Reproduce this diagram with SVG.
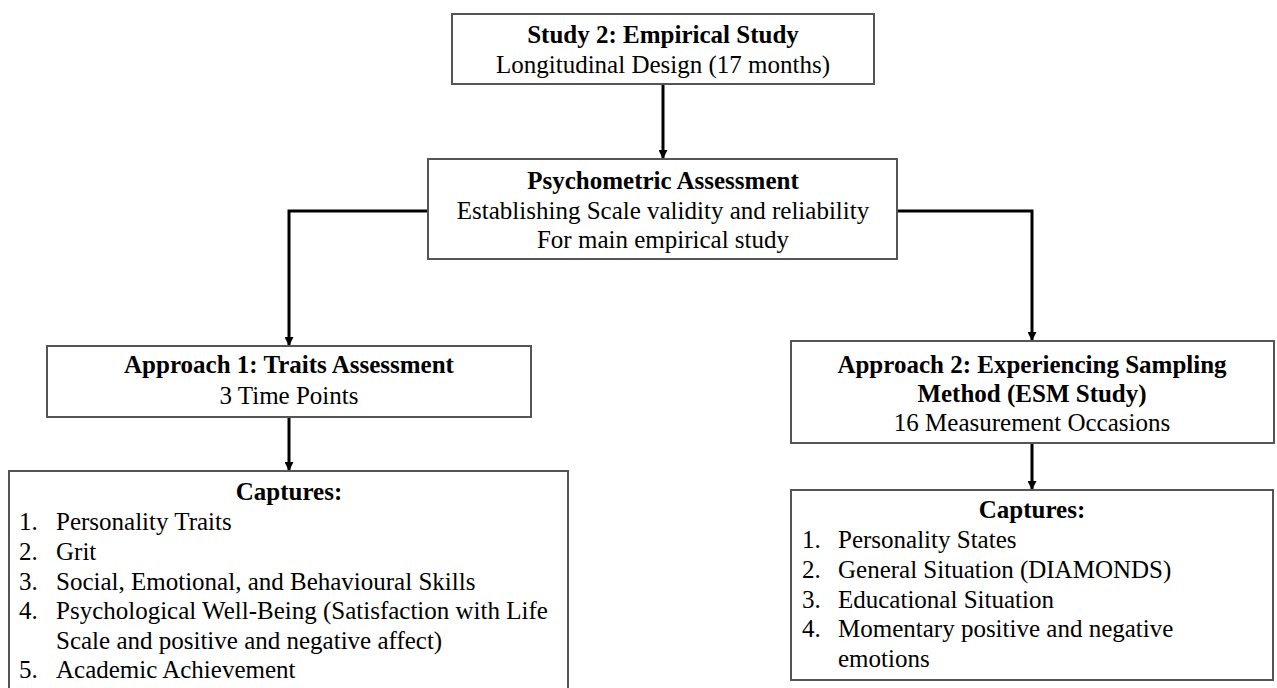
<svg xmlns="http://www.w3.org/2000/svg" width="1277" height="688" viewBox="0 0 1277 688">
  <style>
    .box { fill: #ffffff; stroke: #555555; stroke-width: 2; }
    .conn { fill: none; stroke: #000000; stroke-width: 3; }
    text { font-family: "Liberation Serif", "Times New Roman", serif; font-size: 25px; fill: #000000; }
    .b { font-weight: bold; }
    .c { text-anchor: middle; }
  </style>
  <defs>
    <marker id="arrow" viewBox="0 0 10 10" refX="10" refY="5" markerWidth="10" markerHeight="9" markerUnits="userSpaceOnUse" orient="auto">
      <path d="M0,0 L10,5 L0,10 z" fill="#000000"/>
    </marker>
  </defs>
  <rect width="1277" height="688" fill="#ffffff"/>

  <g id="connectors">
    <path class="conn" d="M663,84 V159" marker-end="url(#arrow)"/>
    <path class="conn" d="M428,211 H289 V346" marker-end="url(#arrow)"/>
    <path class="conn" d="M897,211 H1032 V341" marker-end="url(#arrow)"/>
    <path class="conn" d="M289,417 V471" marker-end="url(#arrow)"/>
    <path class="conn" d="M1032,443 V490" marker-end="url(#arrow)"/>
  </g>

  <g id="study2">
    <rect class="box" x="452" y="14" width="422" height="70"/>
    <text class="b c" x="663" y="43">Study 2: Empirical Study</text>
    <text class="c" x="663" y="73">Longitudinal Design (17 months)</text>
  </g>

  <g id="psychometric">
    <rect class="box" x="428" y="159" width="469" height="100"/>
    <text class="b c" x="663" y="189">Psychometric Assessment</text>
    <text class="c" x="663" y="219">Establishing Scale validity and reliability</text>
    <text class="c" x="663" y="248">For main empirical study</text>
  </g>

  <g id="approach1">
    <rect class="box" x="47" y="346" width="484" height="71"/>
    <text class="b c" x="289" y="373">Approach 1: Traits Assessment</text>
    <text class="c" x="289" y="404">3 Time Points</text>
  </g>

  <g id="approach2">
    <rect class="box" x="791" y="341" width="483" height="102"/>
    <text class="b c" x="1032" y="373">Approach 2: Experiencing Sampling</text>
    <text class="b c" x="1032" y="402">Method (ESM Study)</text>
    <text class="c" x="1032" y="431">16 Measurement Occasions</text>
  </g>

  <g id="captures1">
    <rect class="box" x="9" y="471" width="559" height="240"/>
    <text class="b c" x="289" y="500">Captures:</text>
    <text x="19" y="530">1.</text><text x="56" y="530">Personality Traits</text>
    <text x="19" y="560">2.</text><text x="56" y="560">Grit</text>
    <text x="19" y="590">3.</text><text x="56" y="590">Social, Emotional, and Behavioural Skills</text>
    <text x="19" y="619">4.</text><text x="56" y="619">Psychological Well-Being (Satisfaction with Life</text>
    <text x="56" y="649">Scale and positive and negative affect)</text>
    <text x="19" y="678">5.</text><text x="56" y="678">Academic Achievement</text>
  </g>

  <g id="captures2">
    <rect class="box" x="791" y="490" width="482" height="190"/>
    <text class="b c" x="1032" y="518">Captures:</text>
    <text x="802" y="548">1.</text><text x="838" y="548">Personality States</text>
    <text x="802" y="578">2.</text><text x="838" y="578">General Situation (DIAMONDS)</text>
    <text x="802" y="608">3.</text><text x="838" y="608">Educational Situation</text>
    <text x="802" y="637">4.</text><text x="838" y="637">Momentary positive and negative</text>
    <text x="838" y="667">emotions</text>
  </g>
</svg>
